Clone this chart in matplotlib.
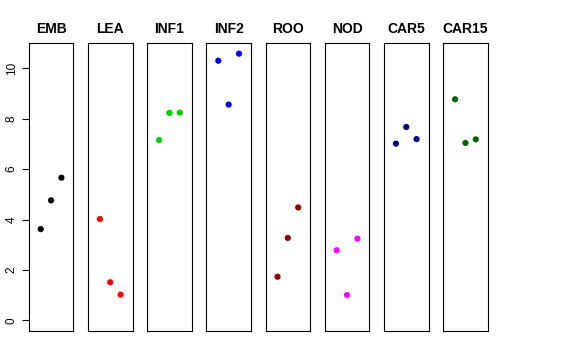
import numpy as np
from matplotlib import pyplot as plt

plt.rcParams['font.family'] = ['Liberation Sans', 'DejaVu Sans']

tissues = ["EMB", "LEA", "INF1", "INF2", "ROO", "NOD", "CAR5", "CAR15"]
colors = ["black", "red", "#00CD00", "blue", "#8B0000", "magenta", "#000080", "#006400"]

emb = [3.62, 4.76, 5.66]
lea = [4.02, 1.51, 1.02]
inf1 = [7.15, 8.23, 8.24]
inf2 = [10.30, 8.56, 10.58]
roo = [1.73, 3.27, 4.48]
nod = [2.78, 1.00, 3.24]
car5 = [7.01, 7.67, 7.19]
car15 = [8.77, 7.04, 7.18]
values = [emb, lea, inf1, inf2, roo, nod, car5, car15]

W, H = 576, 360
fig = plt.figure(figsize=(W / 100, H / 100), dpi=100)

ymax = max(max(v) for v in values)
ypad = 0.04 * ymax
left0, pitch, pw = 28.7, 59.2, 44.7
top, bottom = 43, 331

for i, (name, col, vals) in enumerate(zip(tissues, colors, values)):
  ax = fig.add_axes([(left0 + i * pitch) / W, (H - bottom) / H, pw / W, (bottom - top) / H])
  x = np.arange(1, len(vals) + 1)
  ax.scatter(x, vals, s=20, color=col, edgecolors='none', zorder=3)
  ax.set_xlim(-0.16, 4.16)
  ax.set_ylim(-ypad, ymax + ypad)
  ax.set_xticks([])
  for s in ax.spines.values():
    s.set_linewidth(0.8)
  ax.set_title(name, fontsize=10, fontweight='bold', pad=7)
  if i == 0:
    ax.set_yticks([0, 2, 4, 6, 8, 10])
    ax.tick_params(axis='y', length=5, width=0.8, labelsize=8.5, pad=3)
    for t in ax.get_yticklabels():
      t.set_rotation(90)
      t.set_va('center')
  else:
    ax.set_yticks([])

plt.savefig("out.png", dpi=100)
